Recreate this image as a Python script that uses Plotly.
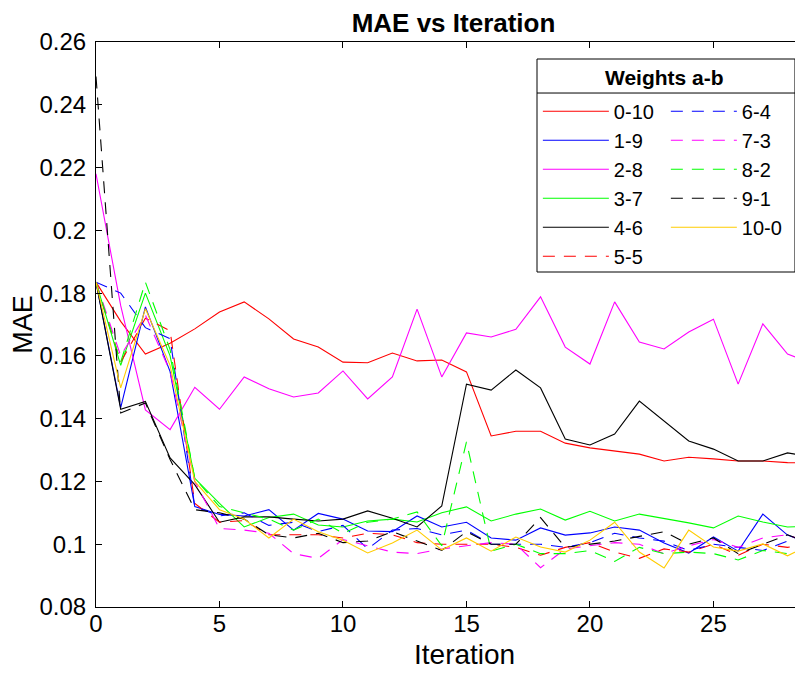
import plotly.graph_objects as go

iterations = list(range(30))

w0_10 = [0.1835, 0.171, 0.1606, 0.164, 0.1686, 0.174, 0.1772, 0.1718, 0.1654, 0.1628, 0.158, 0.1578, 0.1609, 0.1584, 0.1587, 0.1549, 0.1345, 0.136, 0.136, 0.1322, 0.1307, 0.1297, 0.1287, 0.1265, 0.1277, 0.1272, 0.1265, 0.1265, 0.126, 0.1258]
w1_9 = [0.1835, 0.1435, 0.1756, 0.155, 0.112, 0.1095, 0.109, 0.111, 0.1045, 0.1098, 0.108, 0.1042, 0.104, 0.109, 0.1055, 0.107, 0.102, 0.1013, 0.1052, 0.1029, 0.1036, 0.1055, 0.1045, 0.1004, 0.0972, 0.1023, 0.0978, 0.1096, 0.1029, 0.1]
w2_8 = [0.218, 0.176, 0.1428, 0.1365, 0.150, 0.143, 0.1533, 0.1495, 0.1469, 0.1482, 0.1552, 0.1463, 0.1533, 0.1749, 0.1533, 0.1673, 0.166, 0.1685, 0.1788, 0.1628, 0.1574, 0.1772, 0.1644, 0.1622, 0.1676, 0.1717, 0.151, 0.1702, 0.1606, 0.1575]
w3_7 = [0.1835, 0.157, 0.180, 0.160, 0.121, 0.113, 0.1055, 0.1085, 0.1096, 0.1061, 0.1055, 0.1074, 0.108, 0.1071, 0.110, 0.1119, 0.1074, 0.1096, 0.1112, 0.1077, 0.1105, 0.1074, 0.1096, 0.1083, 0.1068, 0.1052, 0.109, 0.1071, 0.1055, 0.1058]
w4_6 = [0.1835, 0.143, 0.1455, 0.1275, 0.119, 0.107, 0.1087, 0.1087, 0.108, 0.1074, 0.108, 0.1106, 0.1083, 0.1055, 0.1122, 0.151, 0.1491, 0.1555, 0.1498, 0.1335, 0.1316, 0.1351, 0.1456, 0.1393, 0.1329, 0.1303, 0.1265, 0.1265, 0.1291, 0.1278]
w5_5 = [0.1835, 0.158, 0.172, 0.168, 0.113, 0.107, 0.1075, 0.103, 0.103, 0.103, 0.102, 0.1035, 0.103, 0.1005, 0.1, 0.1, 0.1, 0.099, 0.0965, 0.099, 0.1005, 0.0975, 0.0955, 0.0985, 0.0975, 0.1, 0.0965, 0.1, 0.099, 0.1]
w6_4 = [0.1835, 0.180, 0.169, 0.1655, 0.112, 0.109, 0.11, 0.106, 0.107, 0.104, 0.106, 0.0985, 0.1045, 0.105, 0.103, 0.1045, 0.1, 0.1, 0.1, 0.099, 0.1005, 0.1035, 0.102, 0.101, 0.098, 0.1, 0.099, 0.098, 0.101, 0.1]
w7_3 = [0.1835, 0.16, 0.173, 0.155, 0.12, 0.105, 0.1045, 0.1035, 0.097, 0.0955, 0.1015, 0.0995, 0.0975, 0.097, 0.0985, 0.0995, 0.1005, 0.1, 0.0925, 0.0985, 0.0995, 0.1005, 0.1, 0.097, 0.0995, 0.1015, 0.099, 0.102, 0.103, 0.1]
w8_2 = [0.1835, 0.158, 0.1835, 0.162, 0.121, 0.112, 0.110, 0.108, 0.1045, 0.108, 0.1035, 0.107, 0.108, 0.1103, 0.0995, 0.1326, 0.0978, 0.1, 0.097, 0.097, 0.098, 0.0945, 0.099, 0.097, 0.0975, 0.097, 0.095, 0.098, 0.097, 0.0955]
w9_1 = [0.249, 0.1418, 0.145, 0.127, 0.111, 0.110, 0.108, 0.103, 0.102, 0.1035, 0.1005, 0.101, 0.104, 0.101, 0.098, 0.104, 0.1, 0.1, 0.1085, 0.099, 0.1, 0.101, 0.1025, 0.104, 0.1, 0.102, 0.097, 0.1, 0.103, 0.1]
w10_0 = [0.1835, 0.1498, 0.175, 0.157, 0.12, 0.111, 0.108, 0.102, 0.108, 0.104, 0.1013, 0.0972, 0.1004, 0.1045, 0.0982, 0.102, 0.0978, 0.1023, 0.0991, 0.0975, 0.1013, 0.107, 0.0975, 0.0924, 0.1045, 0.0991, 0.0978, 0.1001, 0.0963, 0.1001]

series_names = ["0-10", "1-9", "2-8", "3-7", "4-6", "5-5", "6-4", "7-3", "8-2", "9-1", "10-0"]
series_values = [w0_10, w1_9, w2_8, w3_7, w4_6, w5_5, w6_4, w7_3, w8_2, w9_1, w10_0]
colors = ["#FF0000", "#0000FF", "#FF00FF", "#00FF00", "#000000", "#FF0000",
          "#0000FF", "#FF00FF", "#00FF00", "#000000", "#FFCC00"]
dashes = ["solid", "solid", "solid", "solid", "solid", "12px,9px",
          "12px,9px", "12px,9px", "12px,9px", "12px,9px", "solid"]
y_ticks = [0.08, 0.1, 0.12, 0.14, 0.16, 0.18, 0.2, 0.22, 0.24, 0.26]
y_tick_labels = ["0.08", "0.1", "0.12", "0.14", "0.16", "0.18", "0.2", "0.22", "0.24", "0.26"]
x_ticks = [0, 5, 10, 15, 20, 25]

FONT = "Liberation Sans, Arial, Helvetica, sans-serif"

fig = go.Figure()
for k, (name, vals) in enumerate(zip(series_names, series_values)):
    fig.add_trace(go.Scatter(
        x=iterations, y=vals, mode="lines", name=name,
        line=dict(color=colors[k], width=1.1, dash=dashes[k]),
        legend="legend" if k < 6 else "legend2",
    ))

leg_common = dict(xanchor="left", yanchor="top", bgcolor="rgba(0,0,0,0)",
                  borderwidth=0, font=dict(size=20), itemwidth=66)

fig.update_layout(
    width=803, height=680,
    margin=dict(l=88, r=0, t=34, b=81),
    plot_bgcolor="white", paper_bgcolor="white",
    font=dict(family=FONT, size=24, color="black"),
    title=dict(text="<b>MAE vs Iteration</b>", x=0.5, xref="paper", xanchor="center",
               y=0.978, yref="container", yanchor="middle",
               font=dict(family=FONT, size=26, color="black")),
    xaxis=dict(range=[0, 28.95], tickvals=x_ticks, automargin=False,
               ticks="inside", ticklen=6, tickcolor="black", showline=True,
               linecolor="black", linewidth=1, mirror="ticks", showgrid=False,
               zeroline=False, ticklabelstandoff=-5,
               tickfont=dict(size=24)),
    yaxis=dict(range=[0.08, 0.26], tickvals=y_ticks, ticktext=y_tick_labels, automargin=False,
               ticks="inside", ticklen=6, tickcolor="black", showline=True,
               linecolor="black", linewidth=1, showgrid=False, zeroline=False,
               ticklabelstandoff=4,
               title=dict(text="MAE", font=dict(size=27), standoff=8),
               tickfont=dict(size=24)),
    legend=dict(x=0.618, y=0.912, **leg_common),
    legend2=dict(x=0.797, y=0.912, **leg_common),
    showlegend=True,
)

# x-axis label
fig.add_annotation(text="Iteration", xref="paper", yref="paper", x=0.515, y=-0.084,
                   xanchor="center", yanchor="middle", showarrow=False,
                   font=dict(family=FONT, size=28, color="black"))

# legend frame with title
fig.add_shape(type="rect", xref="paper", yref="paper", x0=0.6168, x1=0.9776, y0=0.5929, y1=0.9699,
              line=dict(color="black", width=1), fillcolor="white", layer="above")
fig.add_shape(type="line", xref="paper", yref="paper", x0=0.6168, x1=0.9776, y0=0.9097, y1=0.9097,
              line=dict(color="black", width=1))
fig.add_annotation(text="<b>Weights a-b</b>", xref="paper", yref="paper", x=0.7958, y=0.938,
                   xanchor="center", yanchor="middle", showarrow=False,
                   font=dict(family=FONT, size=21, color="black"))

fig.write_html("out.html")
